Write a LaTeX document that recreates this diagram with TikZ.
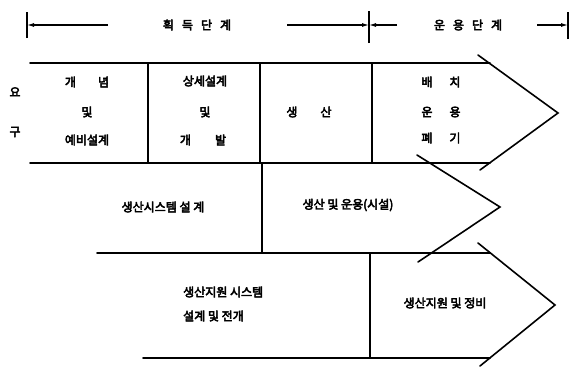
\documentclass[tikz,border=0pt]{standalone}
\usepackage{fontspec}
\newfontfamily\kr[FakeBold=4]{Noto Sans CJK KR}
\usetikzlibrary{arrows.meta}
\begin{document}
\begin{tikzpicture}[x=1pt,y=-1pt,
  ln/.style={line width=1.6pt,line cap=round},
  thin/.style={line width=1.1pt},
  lbl/.style={font=\kr\fontsize{12}{14}\selectfont,inner sep=0pt},
  tick/.style={line width=1.1pt},
  dimtip/.style={-{Latex[length=7pt,width=4pt]}}]
\useasboundingbox (0,0) rectangle (573,367);
% ---- dimension line at top
\coordinate (dL) at (27,25);
\coordinate (dLe) at (108,25);
\coordinate (dMs) at (287,25);
\coordinate (dM) at (369,25);
\coordinate (dMe) at (397,25);
\coordinate (dRs) at (537,25);
\coordinate (dR) at (568,25);
\draw[thin,dimtip] (dLe) -- (dL);
\draw[thin,dimtip] (dMs) -- (dM);
\draw[thin,dimtip] (dMe) -- (dM);
\draw[thin,dimtip] (dRs) -- (dR);
\draw[tick] ([yshift=-13pt]dL) -- ([yshift=13pt]dL);
\draw[tick] ([yshift=-18pt]dM) -- ([yshift=14pt]dM);
\draw[tick] ([yshift=-14pt]dR) -- ([yshift=13pt]dR);
\node[lbl] (acq) at (197,25) {획\hspace{8pt}득\hspace{8pt}단\hspace{8pt}계};
\node[lbl] (ops) at (468,25) {운\hspace{8pt}용\hspace{8pt}단\hspace{8pt}계};
% ---- row 1
\coordinate (r1tl) at (30,63);
\coordinate (r1tr) at (490,63);
\coordinate (r1bl) at (30,163);
\coordinate (r1br) at (490,163);
\coordinate (a1s) at (478,55);
\coordinate (a1t) at (558,113);
\coordinate (a1e) at (480,170);
\draw[ln] (r1tl) -- (r1tr);
\draw[ln] (r1bl) -- (r1br);
\draw[ln] (a1s) -- (a1t) -- (a1e);
\foreach \xx/\nm in {148/d1,260/d2,372/d3}{
  \coordinate (\nm t) at (\xx,63);
  \coordinate (\nm b) at (\xx,163);
  \draw[ln] (\nm t) -- (\nm b);
}
\node[lbl] (yo) at (15,92) {요};
\node[lbl] (gu) at (15,132) {구};
\node[lbl] (c1a) at (87,82) {개\hspace{22pt}념};
\node[lbl] (c1b) at (87,112) {및};
\node[lbl] (c1c) at (87,140) {예비설계};
\node[lbl] (c2a) at (205,81) {상세설계};
\node[lbl] (c2b) at (205,112) {및};
\node[lbl] (c2c) at (203,140) {개\hspace{24pt}발};
\node[lbl] (c3a) at (309,112) {생\hspace{23pt}산};
\node[lbl] (c4a) at (441,82) {배\hspace{17pt}치};
\node[lbl] (c4b) at (441,112) {운\hspace{17pt}용};
\node[lbl] (c4c) at (441,138) {폐\hspace{17pt}기};
% ---- row 2
\coordinate (r2bl) at (97,253);
\coordinate (r2br) at (490,253);
\coordinate (a2s) at (417,155);
\coordinate (a2t) at (500,207);
\coordinate (a2e) at (418,262);
\coordinate (d4t) at (262,163);
\coordinate (d4b) at (262,253);
\draw[ln] (r2bl) -- (r2br);
\draw[ln] (d4t) -- (d4b);
\draw[ln] (a2s) -- (a2t) -- (a2e);
\node[lbl] (r2a) at (163,207) {생산시스템 설 계};
\node[lbl] (r2b) at (348,205) {생산 및 운용(시설)};
% ---- row 3
\coordinate (r3bl) at (143,358);
\coordinate (r3br) at (490,358);
\coordinate (a3s) at (478,243);
\coordinate (a3t) at (555,305);
\coordinate (a3e) at (480,366);
\coordinate (d5t) at (370,253);
\coordinate (d5b) at (370,358);
\draw[ln] (r3bl) -- (r3br);
\draw[ln] (d5t) -- (d5b);
\draw[ln] (a3s) -- (a3t) -- (a3e);
\node[lbl,anchor=west] (r3a) at (183,292) {생산지원 시스템};
\node[lbl,anchor=west] (r3b) at (183,316) {설계 및 전개};
\node[lbl] (r3c) at (445,303) {생산지원 및 정비};
\end{tikzpicture}
\end{document}
